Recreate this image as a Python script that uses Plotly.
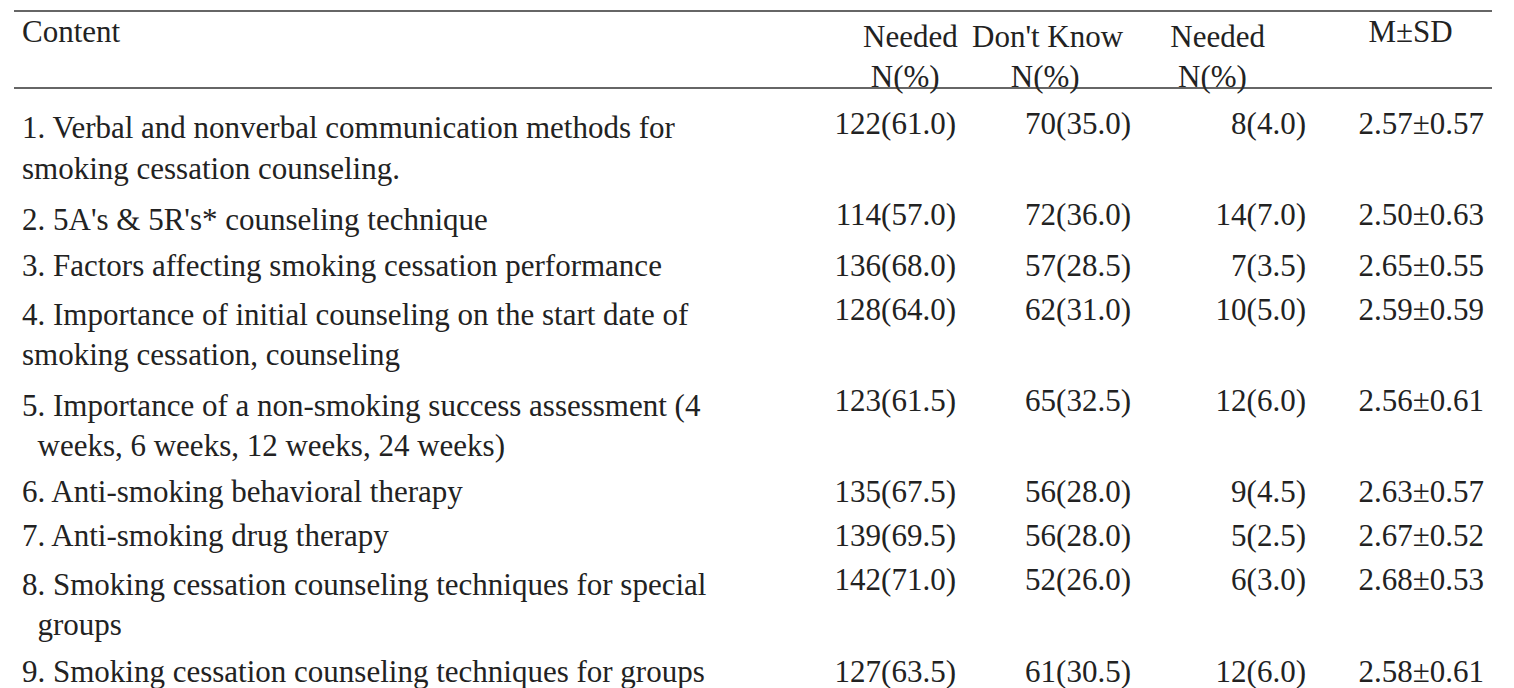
import plotly.graph_objects as go

headers = ["Content", "    Needed<br>     N(%)", "Don't Know<br>     N(%)", "   Needed<br>    N(%)", "      M±SD"]
content = [
    "1. Verbal and nonverbal communication methods for<br>smoking cessation counseling.",
    "2. 5A's & 5R's* counseling technique",
    "3. Factors affecting smoking cessation performance",
    "4. Importance of initial counseling on the start date of<br>smoking cessation, counseling",
    "5. Importance of a non-smoking success assessment (4<br>  weeks, 6 weeks, 12 weeks, 24 weeks)",
    "6. Anti-smoking behavioral therapy",
    "7. Anti-smoking drug therapy",
    "8. Smoking cessation counseling techniques for special<br>  groups",
    "9. Smoking cessation counseling techniques for groups",
    "10. Way to make and use a site or media to receive smoking<br>cessation counseling materials",
]
needed = ["122(61.0)", "114(57.0)", "136(68.0)", "128(64.0)", "123(61.5)",
          "135(67.5)", "139(69.5)", "142(71.0)", "127(63.5)", "130(65.5)"]
dont_know = ["70(35.0)", "72(36.0)", "57(28.5)", "62(31.0)", "65(32.5)",
             "56(28.0)", "56(28.0)", "52(26.0)", "61(30.5)", "55(27.5)"]
not_needed = ["8(4.0)", "14(7.0)", "7(3.5)", "10(5.0)", "12(6.0)",
              "9(4.5)", "5(2.5)", "6(3.0)", "12(6.0)", "15(7.5)"]
m_sd = ["2.57±0.57", "2.50±0.63", "2.65±0.55", "2.59±0.59", "2.56±0.61",
        "2.63±0.57", "2.67±0.52", "2.68±0.53", "2.58±0.61", "2.58±0.63"]

font = dict(family="Liberation Serif", size=31, color="#222")

fig = go.Figure(go.Table(
    columnwidth=[810, 140, 175, 175, 178],
    header=dict(values=headers, align="left",
                fill_color="white", line_color="white", font=font, height=36),
    cells=dict(values=[content, needed, dont_know, not_needed, m_sd],
               align=["left", "right", "right", "right", "right"],
               fill_color="white", line_color="white", font=font, height=44),
))

line = dict(color="#333", width=1.5)
fig.add_shape(type="line", xref="paper", yref="paper", x0=0, x1=1, y0=1, y1=1, line=line)
fig.add_shape(type="line", xref="paper", yref="paper", x0=0, x1=1, y0=0.887, y1=0.887, line=line)
fig.add_shape(type="line", xref="paper", yref="paper", x0=0, x1=1, y0=0, y1=0, line=line)

fig.update_layout(width=1514, height=688, margin=dict(l=6, r=30, t=3, b=4),
                  paper_bgcolor="white", plot_bgcolor="white")
fig.write_html("out.html")
